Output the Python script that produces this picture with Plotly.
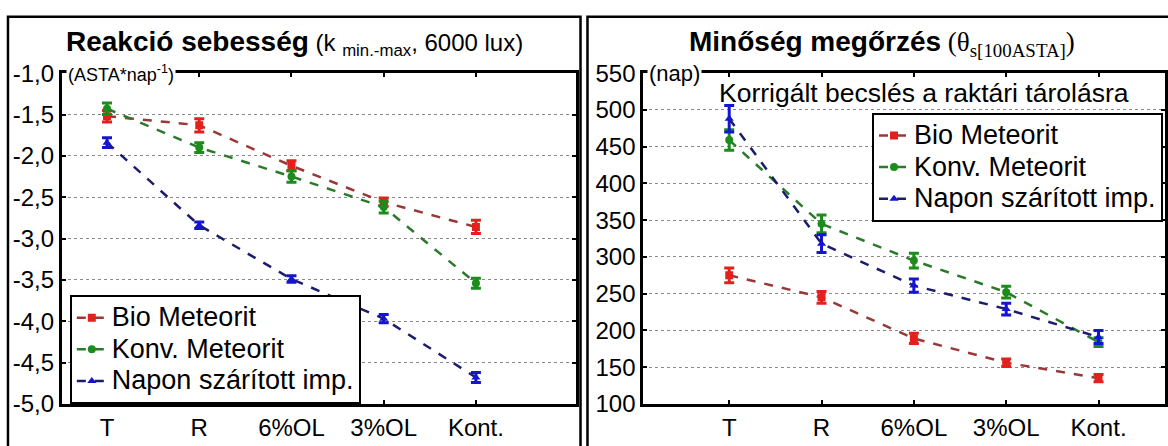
import plotly.graph_objects as go

W, H = 1168, 446

categories = ["T", "R", "6%OL", "3%OL", "Kont."]
series_names = ["Bio Meteorit", "Konv. Meteorit", "Napon szárított imp."]

# Left panel: reaction rate (ASTA*nap^-1)
rate_bio = [-1.52, -1.63, -2.12, -2.56, -2.86]
rate_bio_err = [0.07, 0.08, 0.06, 0.05, 0.08]
rate_konv = [-1.43, -1.90, -2.25, -2.62, -3.54]
rate_konv_err = [0.07, 0.06, 0.07, 0.07, 0.06]
rate_napon = [-1.84, -2.84, -3.49, -3.97, -4.68]
rate_napon_err = [0.06, 0.04, 0.04, 0.05, 0.06]

# Right panel: quality retention (nap)
keep_bio = [275, 245, 189, 156, 135]
keep_bio_err = [10, 8, 7, 5, 5]
keep_konv = [459, 345, 295, 252, 184]
keep_konv_err = [14, 12, 10, 8, 6]
keep_napon = [488, 318, 261, 229, 191]
keep_napon_err = [18, 12, 9, 8, 9]

left_tickvals = [-1.0, -1.5, -2.0, -2.5, -3.0, -3.5, -4.0, -4.5, -5.0]
left_ticktext = ["-1,0", "-1,5", "-2,0", "-2,5", "-3,0", "-3,5", "-4,0", "-4,5", "-5,0"]
right_tickvals = [100, 150, 200, 250, 300, 350, 400, 450, 500, 550]
right_ticktext = ["100", "150", "200", "250", "300", "350", "400", "450", "500", "550"]

marker_colors = ["#e3201c", "#1c8c1c", "#1414d2"]
line_colors = ["#9a3838", "#2b7a2b", "#1c1c6e"]
symbols = ["square", "circle", "triangle-up"]

FONT = "Arial, 'Liberation Sans', sans-serif"

def px_x(p):
    return p / W

def px_y(p):
    return 1 - p / H

def legend_label(name):
    return "<span style='font-size:27px'>" + name + "</span>"

fig = go.Figure()

left_data = [(rate_bio, rate_bio_err), (rate_konv, rate_konv_err), (rate_napon, rate_napon_err)]
right_data = [(keep_bio, keep_bio_err), (keep_konv, keep_konv_err), (keep_napon, keep_napon_err)]

for data, xa, ya, lg in [(left_data, "x", "y", "legend"), (right_data, "x2", "y2", "legend2")]:
    for i, (vals, errs) in enumerate(data):
        fig.add_trace(go.Scatter(
            x=categories, y=vals, name=legend_label(series_names[i]), mode="lines+markers",
            line=dict(color=line_colors[i], width=2.5, dash="dash"),
            marker=dict(color=marker_colors[i], size=8, symbol=symbols[i]),
            error_y=dict(type="data", array=errs, color=marker_colors[i], thickness=3, width=5),
            xaxis=xa, yaxis=ya, legend=lg,
        ))

axis_common = dict(
    showline=True, linecolor="black", linewidth=3, mirror="ticks",
    ticks="inside", ticklen=4, tickwidth=2, tickcolor="black",
    tickfont=dict(family=FONT, size=24, color="black"),
    zeroline=False,
)

ydom = [px_y(415), px_y(63)]

legend_common = dict(
    bgcolor="white", bordercolor="black", borderwidth=2,
    font=dict(family=FONT, size=22, color="black"),
    tracegroupgap=0,
)

fig.update_layout(
    width=W, height=H,
    margin=dict(l=0, r=0, t=0, b=0),
    paper_bgcolor="white", plot_bgcolor="white",
    font=dict(family=FONT, color="black"),
    xaxis=dict(domain=[px_x(62), px_x(577)], anchor="y", type="category",
               categoryorder="array", categoryarray=categories,
               range=[-0.49, 5.08], showgrid=False, **axis_common),
    yaxis=dict(domain=ydom, anchor="x", range=[-5.0, -1.0],
               tickvals=left_tickvals, ticktext=left_ticktext,
               showgrid=True, gridcolor="#8a8a8a", gridwidth=1, griddash="dot",
               **axis_common),
    xaxis2=dict(domain=[px_x(645), 1.0], anchor="y2", type="category",
                categoryorder="array", categoryarray=categories,
                range=[-0.93, 4.72], showgrid=False, **axis_common),
    yaxis2=dict(domain=ydom, anchor="x2", range=[100, 550],
                tickvals=right_tickvals, ticktext=right_ticktext,
                showgrid=True, gridcolor="#8a8a8a", gridwidth=1, griddash="dot",
                **axis_common),
    legend=dict(x=px_x(70), y=px_y(299), xanchor="left", yanchor="top", **legend_common),
    legend2=dict(x=px_x(1166), y=px_y(105), xanchor="right", yanchor="top", **legend_common),
    showlegend=True,
)

# Panel frames
fig.add_shape(type="rect", xref="paper", yref="paper",
              x0=px_x(8), x1=px_x(582), y0=-0.2, y1=px_y(3),
              line=dict(color="black", width=2.5), layer="below")
fig.add_shape(type="rect", xref="paper", yref="paper",
              x0=px_x(589), x1=1.1, y0=-0.2, y1=px_y(3),
              line=dict(color="black", width=2.5), layer="below")

annotations = [
    dict(x=px_x(64), y=px_y(31), xanchor="left", yanchor="middle",
         text="<b>Reakció sebesség</b><span style='font-size:24px'> (k <sub>min.-max</sub>, 6000 lux)</span>",
         font=dict(family=FONT, size=28, color="black")),
    dict(x=px_x(66), y=px_y(63), xanchor="left", yanchor="middle",
         text="(ASTA*nap<sup>-1</sup>)", bgcolor="white",
         font=dict(family=FONT, size=18, color="black")),
    dict(x=px_x(689), y=px_y(31), xanchor="left", yanchor="middle",
         text="<b>Minőség megőrzés</b><span style=\"font-family:'Liberation Serif', 'Times New Roman', serif; font-size:27px; font-weight:normal\"> (θ<sub>s[100ASTA]</sub>)</span>",
         font=dict(family=FONT, size=28, color="black")),
    dict(x=px_x(649), y=px_y(63), xanchor="left", yanchor="middle",
         text="(nap)", bgcolor="white",
         font=dict(family=FONT, size=22, color="black")),
    dict(x=px_x(719), y=px_y(84), xanchor="left", yanchor="middle",
         text="Korrigált becslés a raktári tárolásra",
         font=dict(family=FONT, size=26.5, color="black")),
]
for a in annotations:
    a.update(xref="paper", yref="paper", showarrow=False)
    fig.add_annotation(**a)

fig.write_html("out.html",
               config={"displayModeBar": False},
               post_script="document.body.style.margin='0px'; document.body.style.overflow='hidden';")
